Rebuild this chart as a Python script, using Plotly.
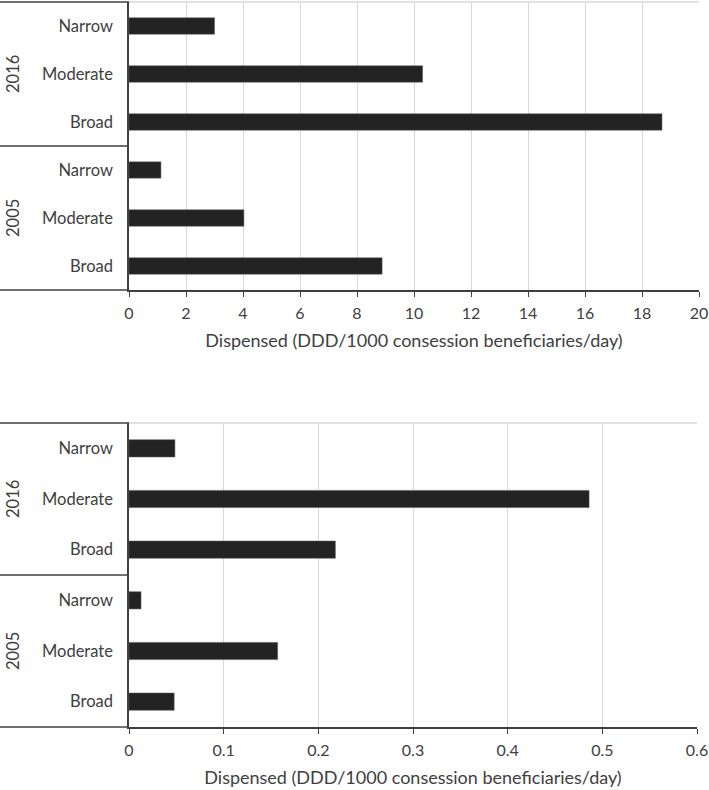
import plotly.graph_objects as go
from plotly.subplots import make_subplots

years = ["2016", "2016", "2016", "2005", "2005", "2005"]
spectra = ["Narrow", "Moderate", "Broad", "Narrow", "Moderate", "Broad"]
top_values = [3.0, 10.3, 18.7, 1.12, 4.03, 8.88]
bottom_values = [0.0485, 0.486, 0.218, 0.0127, 0.157, 0.0477]
top_ticks = [0, 2, 4, 6, 8, 10, 12, 14, 16, 18, 20]
bottom_ticks = [0, 0.1, 0.2, 0.3, 0.4, 0.5, 0.6]
x_title = "Dispensed (DDD/1000 consession beneficiaries/day)"

keys = [f"{y}|{s}" for y, s in zip(years, spectra)]
order = list(reversed(keys))  # first item at top

W, H = 709, 790
ML, MR, MT, MB = 129, 10, 2, 63
FONT = "Lato"
TXT = "#404040"
AX = "#404040"
GRID = "#d9d9d9"

fig = make_subplots(rows=2, cols=1, vertical_spacing=0.0)

for row, vals in ((1, top_values), (2, bottom_values)):
    fig.add_trace(go.Bar(x=vals, y=keys, orientation="h",
                         marker=dict(color="#232323", line=dict(color="#555555", width=0.5)),
                         showlegend=False), row=row, col=1)

plot_h = H - MT - MB
plot_w = W - ML - MR
top_dom = [(H - MB - 290) / plot_h, 1.0]
bot_dom = [0.0, (H - MB - 423) / plot_h]
bot_xdom = [0.0, (697 - ML) / plot_w]

common_x = dict(showgrid=True, gridcolor=GRID, gridwidth=1, zeroline=False,
                showline=True, linecolor=AX, linewidth=1.5,
                ticks="outside", ticklen=5, tickcolor=AX, tickwidth=1.2,
                automargin=False, ticklabeloverflow="allow", ticklabelstandoff=3,
                tickfont=dict(family=FONT, size=16, color=TXT),
                title=dict(text=x_title, font=dict(family=FONT, size=18, color=TXT), standoff=13))
common_y = dict(type="category", categoryorder="array", categoryarray=order,
                tickmode="array", tickvals=keys, ticktext=spectra,
                showline=True, linecolor=AX, linewidth=1.5, ticks="",
                showgrid=False, zeroline=False, ticklabelstandoff=11, automargin=False,
                tickfont=dict(family=FONT, size=16.5, color=TXT))

fig.update_xaxes(range=[0, 20], tickvals=top_ticks, row=1, col=1, **common_x)
fig.update_xaxes(range=[0, 0.6], tickvals=bottom_ticks, domain=bot_xdom, row=2, col=1, **common_x)
fig.update_yaxes(domain=top_dom, row=1, col=1, **common_y)
fig.update_yaxes(domain=bot_dom, row=2, col=1, **common_y)

left_px = -ML / plot_w
shapes = []
for dom, xr in ((top_dom, 1.0), (bot_dom, bot_xdom[1])):
    lo, hi = dom
    mid = (lo + hi) / 2
    for yy in (hi, mid, lo):
        shapes.append(dict(type="line", xref="paper", yref="paper",
                           x0=left_px, x1=0, y0=yy, y1=yy,
                           line=dict(color=AX, width=1.5)))
    shapes.append(dict(type="line", xref="paper", yref="paper",
                       x0=0, x1=xr, y0=hi, y1=hi,
                       line=dict(color=GRID, width=1.5)))

annotations = []
for yref in ("y", "y2"):
    for yr in ("2016", "2005"):
        annotations.append(dict(x=(13 - ML) / plot_w, xref="paper", yref=yref,
                                y=f"{yr}|Moderate", text=yr, showarrow=False,
                                textangle=-90, xanchor="center", yanchor="middle",
                                font=dict(family=FONT, size=16.5, color=TXT)))

fig.update_layout(width=W, height=H, margin=dict(l=ML, r=MR, t=MT, b=MB),
                  plot_bgcolor="white", paper_bgcolor="white",
                  bargap=0.66, shapes=shapes, annotations=annotations,
                  font=dict(family=FONT, color=TXT))

fig.write_html("out.html", config={"displayModeBar": False},
               post_script="document.body.style.margin='0px';document.body.style.overflow='hidden';")
